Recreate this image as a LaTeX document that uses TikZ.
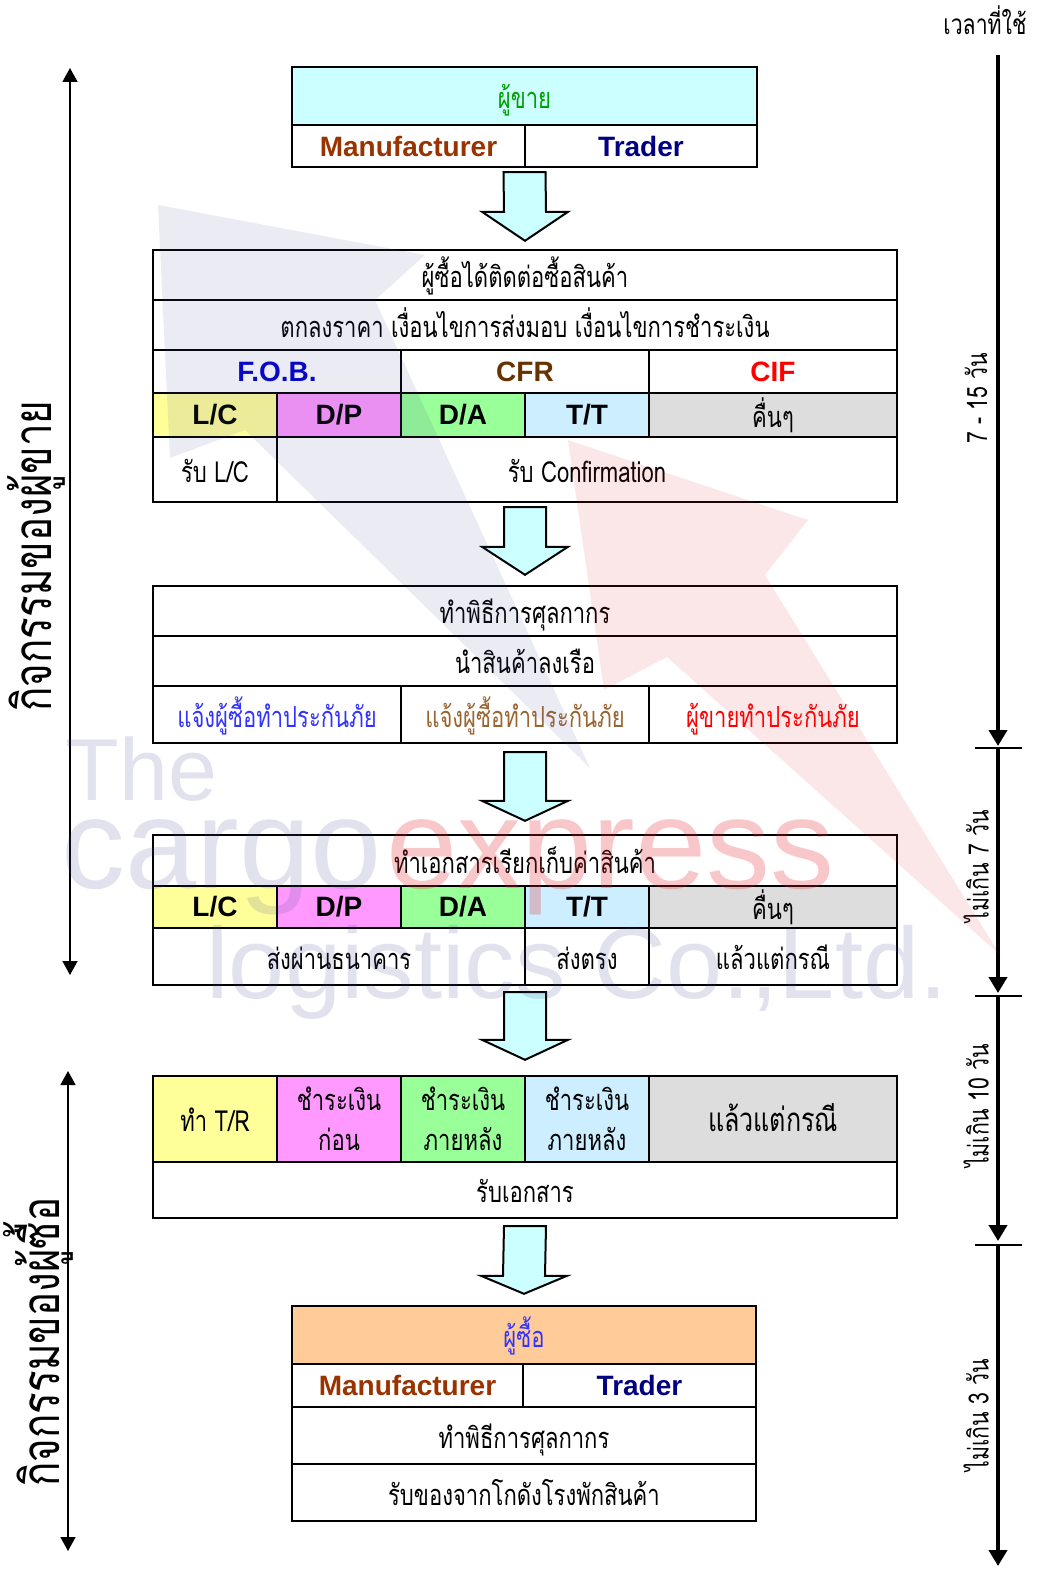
\documentclass[tikz,border=0pt]{standalone}
\usepackage{fontspec}
\setmainfont{Liberation Sans}
\newfontfamily\thai[Script=Thai,FakeStretch=0.76]{Loma}
\usetikzlibrary{arrows.meta,calc,fit}

\definecolor{seller}{HTML}{CCFFFF}
\definecolor{buyer}{HTML}{FFCC99}
\definecolor{lcY}{HTML}{FFFF99}
\definecolor{dpM}{HTML}{FF99FF}
\definecolor{daG}{HTML}{99FF99}
\definecolor{ttB}{HTML}{CCEEFF}
\definecolor{etcG}{HTML}{DDDDDD}
\definecolor{manuf}{HTML}{993300}
\definecolor{trader}{HTML}{000080}
\definecolor{fob}{HTML}{0000CC}
\definecolor{cfr}{HTML}{663300}
\definecolor{cif}{HTML}{FF0000}
\definecolor{insblue}{HTML}{3333FF}
\definecolor{insbrown}{HTML}{996633}
\definecolor{sellgreen}{HTML}{00A000}
\definecolor{wmgray}{HTML}{50509A}
\definecolor{wmred}{HTML}{E62832}

\newcommand\thaitext{\thai\fontsize{29}{40}\selectfont}
% block arrow between two boxes: from, to, top gap, tip gap, head length
\newcommand\downblock[5]{%
  \coordinate (t) at ($(#1.south)+(0,#3)$);
  \coordinate (h) at ($(#2.north)+(0,-#4)$);
  \draw[blockarrow] ($(t)+(-21,0)$) -- ($(t)+(21,0)$) -- ($(h)+(21,-#5)$)
    -- ($(h)+(43,-#5)$) -- (h) -- ($(h)+(-43,-#5)$) -- ($(h)+(-21,-#5)$) -- cycle;}

\begin{document}
\begin{tikzpicture}[x=1pt,y=-1pt,
    cell/.style={draw,line width=2pt,inner sep=0pt,outer sep=0pt,font=\thaitext,align=center},
    line/.style={text height=31pt,text depth=6pt},
    bold/.style={font=\bfseries\fontsize{28}{30}\selectfont},
    blockarrow/.style={line width=2pt,fill=seller,line join=miter},
    sideline/.style={line width=1.5pt,{Triangle[width=15pt,length=14pt]}-{Triangle[width=15pt,length=14pt]}},
    timeline/.style={line width=4pt,-{Triangle[width=18pt,length=16pt]}},
    tick/.style={line width=2pt},
    sidelabel/.style={font=\thai\fontsize{53}{60}\selectfont,rotate=90},
    timelabel/.style={font=\thai\fontsize{28}{30}\selectfont,rotate=90},
    wmtext/.style={font=\fontsize{128}{130}\selectfont,anchor=base west}]
  \useasboundingbox[fill=white] (0,0) rectangle (1038,1576);

  % seller
  \node[cell,line,fill=seller,text=sellgreen,minimum width=465,minimum height=58] (a0) at (524.5,96) {ผู้ขาย};
  \node[cell,bold,text=manuf,minimum width=233,minimum height=42] (a1) at (408.5,146) {Manufacturer};
  \node[cell,bold,text=trader,minimum width=232,minimum height=42] (a2) at (641,146) {Trader};
  \node[fit=(a0)(a1)(a2),inner sep=0pt] (boxA) {};

  % contact and terms
  \node[cell,line,minimum width=744,minimum height=50] (b0) at (525,275) {ผู้ซื้อได้ติดต่อซื้อสินค้า};
  \node[cell,line,minimum width=744,minimum height=50] (b1) at (525,325) {ตกลงราคา เงื่อนไขการส่งมอบ เงื่อนไขการชำระเงิน};
  \node[cell,bold,text=fob,minimum width=248,minimum height=43] (b2) at (277,371.5) {F.O.B.};
  \node[cell,bold,text=cfr,minimum width=248,minimum height=43] (b3) at (525,371.5) {CFR};
  \node[cell,bold,text=cif,minimum width=248,minimum height=43] (b4) at (773,371.5) {CIF};
  \node[cell,bold,fill=lcY,minimum width=124,minimum height=44] (b5) at (215,415) {L/C};
  \node[cell,bold,fill=dpM,minimum width=124,minimum height=44] (b6) at (339,415) {D/P};
  \node[cell,bold,fill=daG,minimum width=124,minimum height=44] (b7) at (463,415) {D/A};
  \node[cell,bold,fill=ttB,minimum width=124,minimum height=44] (b8) at (587,415) {T/T};
  \node[cell,line,fill=etcG,minimum width=248,minimum height=44] (b9) at (773,415) {คื่นๆ};
  \node[cell,line,minimum width=124,minimum height=65] (b10) at (215,469.5) {รับ L/C};
  \node[cell,line,minimum width=620,minimum height=65] (b11) at (587,469.5) {รับ Confirmation};
  \node[fit=(b0)(b10)(b11),inner sep=0pt] (boxB) {};

  % customs and loading
  \node[cell,line,minimum width=744,minimum height=50] (c0) at (525,611) {ทำพิธีการศุลกากร};
  \node[cell,line,minimum width=744,minimum height=50] (c1) at (525,661) {นำสินค้าลงเรือ};
  \node[cell,line,text=insblue,minimum width=248,minimum height=57] (c2) at (277,714.5) {แจ้งผู้ซื้อทำประกันภัย};
  \node[cell,line,text=insbrown,minimum width=248,minimum height=57] (c3) at (525,714.5) {แจ้งผู้ซื้อทำประกันภัย};
  \node[cell,line,text=cif,minimum width=248,minimum height=57] (c4) at (773,714.5) {ผู้ขายทำประกันภัย};
  \node[fit=(c0)(c2)(c4),inner sep=0pt] (boxC) {};

  % collection documents
  \node[cell,line,minimum width=744,minimum height=51] (d0) at (525,860.5) {ทำเอกสารเรียกเก็บค่าสินค้า};
  \node[cell,bold,fill=lcY,minimum width=124,minimum height=42] (d1) at (215,907) {L/C};
  \node[cell,bold,fill=dpM,minimum width=124,minimum height=42] (d2) at (339,907) {D/P};
  \node[cell,bold,fill=daG,minimum width=124,minimum height=42] (d3) at (463,907) {D/A};
  \node[cell,bold,fill=ttB,minimum width=124,minimum height=42] (d4) at (587,907) {T/T};
  \node[cell,line,fill=etcG,minimum width=248,minimum height=42] (d5) at (773,907) {คื่นๆ};
  \node[cell,line,minimum width=372,minimum height=57] (d6) at (339,956.5) {ส่งผ่านธนาคาร};
  \node[cell,line,minimum width=124,minimum height=57] (d7) at (587,956.5) {ส่งตรง};
  \node[cell,line,minimum width=248,minimum height=57] (d8) at (773,956.5) {แล้วแต่กรณี};
  \node[fit=(d0)(d6)(d8),inner sep=0pt] (boxD) {};

  % payment
  \node[cell,line,fill=lcY,minimum width=124,minimum height=86] (e0) at (215,1119) {ทำ T/R};
  \node[cell,fill=dpM,minimum width=124,minimum height=86] (e1) at (339,1119) {ชำระเงิน\\ก่อน};
  \node[cell,fill=daG,minimum width=124,minimum height=86] (e2) at (463,1119) {ชำระเงิน\\ภายหลัง};
  \node[cell,fill=ttB,minimum width=124,minimum height=86] (e3) at (587,1119) {ชำระเงิน\\ภายหลัง};
  \node[cell,line,fill=etcG,font=\thai\fontsize{33}{40}\selectfont,minimum width=248,minimum height=86] (e4) at (773,1119) {แล้วแต่กรณี};
  \node[cell,line,minimum width=744,minimum height=56] (e5) at (525,1190) {รับเอกสาร};
  \node[fit=(e0)(e4)(e5),inner sep=0pt] (boxE) {};

  % buyer
  \node[cell,line,fill=buyer,text=insblue,minimum width=464,minimum height=58] (f0) at (524,1335) {ผู้ซื้อ};
  \node[cell,bold,text=manuf,minimum width=231,minimum height=43] (f1) at (407.5,1385.5) {Manufacturer};
  \node[cell,bold,text=trader,minimum width=233,minimum height=43] (f2) at (639.5,1385.5) {Trader};
  \node[cell,line,minimum width=464,minimum height=57] (f3) at (524,1435.5) {ทำพิธีการศุลกากร};
  \node[cell,line,minimum width=464,minimum height=57] (f4) at (524,1492.5) {รับของจากโกดังโรงพักสินค้า};
  \node[fit=(f0)(f4),inner sep=0pt] (boxF) {};

  % block arrows
  \downblock{boxA}{boxB}{5}{9}{29}
  \downblock{boxB}{boxC}{5}{11}{28}
  \downblock{boxC}{boxD}{9}{14}{20}
  \downblock{boxD}{boxE}{7}{16}{20}
  \downblock{boxE}{boxF}{8}{12}{18}

  % activity ranges
  \coordinate (sellTop) at (70,68);
  \coordinate (sellBot) at (70,975);
  \coordinate (buyTop) at (68,1071);
  \coordinate (buyBot) at (68,1551);
  \draw[sideline] (sellTop) -- (sellBot);
  \draw[sideline] (buyTop) -- (buyBot);
  \node[sidelabel] (sellLbl) at (36,556) {กิจกรรมของผู้ขาย};
  \node[sidelabel] (buyLbl) at (38,1342) {กิจกรรมของผู้ซื้อ};

  % time line
  \node[font=\thai\fontsize{28}{30}\selectfont] (timeHead) at (985,20) {เวลาที่ใช้};
  \coordinate (t0) at (998,55);
  \coordinate (t1) at (998,748);
  \coordinate (t2) at (998,996);
  \coordinate (t3) at (998,1245);
  \coordinate (t4) at (998,1566);
  \draw[timeline] (t0) -- ($(t1)+(0,-2)$);
  \draw[timeline] (t1) -- ($(t2)+(0,-3)$);
  \draw[timeline] (t2) -- ($(t3)+(0,-4)$);
  \draw[timeline] (t3) -- (t4);
  \foreach \t in {t1,t2,t3}
    \draw[tick] ($(\t)+(-23,0)$) -- ($(\t)+(24,0)$);
  \node[timelabel] (time1) at (976,398) {7 - 15 วัน};
  \node[timelabel] (time2) at (976,866) {ไม่เกิน 7 วัน};
  \node[timelabel] (time3) at (976,1106) {ไม่เกิน 10 วัน};
  \node[timelabel] (time4) at (976,1415) {ไม่เกิน 3 วัน};

  % watermark
  \fill[wmgray,opacity=0.11] (158,205) -- (425,255) -- (375,300) -- (590,768) -- (245,430) -- (170,458) -- cycle;
  \fill[wmred,opacity=0.11] (568,440) -- (808,520) -- (765,575) -- (1000,955) -- (667,657) -- (604,690) -- cycle;
  \node[wmtext,font=\fontsize{88}{90}\selectfont,text=wmgray,opacity=0.16] (wmThe) at (62,800) {The};
  \node[wmtext,text=wmgray,opacity=0.16] (wmCargo) at (58,888) {cargo};
  \node[wmtext,text=wmred,opacity=0.26] (wmExpress) at (383,888) {express};
  \node[wmtext,font=\fontsize{101}{103}\selectfont,text=wmgray,opacity=0.16] (wmLogistics) at (203,998) {logistics Co.,Ltd.};
\end{tikzpicture}
\end{document}
